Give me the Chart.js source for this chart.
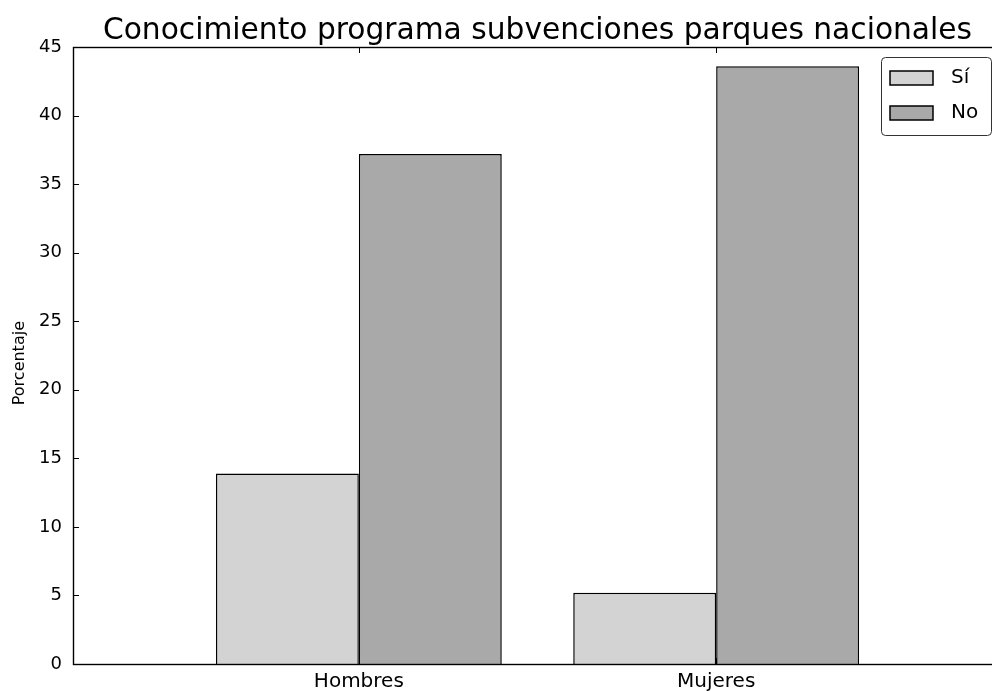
<!DOCTYPE html>
<html>
<head>
<meta charset="utf-8">
<script src="https://cdn.jsdelivr.net/npm/chart.js@4"></script>
<style>
  html, body { margin: 0; padding: 0; background: #fff; overflow: hidden; }
</style>
</head>
<body>
<canvas id="myChart" width="1065" height="691"></canvas>
<script>
// data
var categories = ["Hombres", "Mujeres"];
var siValues = [13.9, 5.2];
var noValues = [37.2, 43.6];
var seriesLabels = ["Sí", "No"];
var yTicks = [0, 5, 10, 15, 20, 25, 30, 35, 40, 45];

var FONT = "'DejaVu Sans', sans-serif";

function toPoints(values) {
  return values.map(function (v, i) { return { x: i, y: v }; });
}

// inward ticks + top/right spines, like the matplotlib classic style
var spinesPlugin = {
  id: "spines",
  afterDatasetsDraw: function (chart) {
    var ctx = chart.ctx;
    var a = chart.chartArea;
    var xs = chart.scales.x, ys = chart.scales.y;
    ctx.save();
    ctx.strokeStyle = "#000";
    ctx.lineWidth = 1;
    ctx.beginPath();
    ys.ticks.forEach(function (t) {
      var py = Math.round(ys.getPixelForValue(t.value)) + 0.5;
      ctx.moveTo(a.left, py); ctx.lineTo(a.left + 6, py);
      ctx.moveTo(a.right, py); ctx.lineTo(a.right - 6, py);
    });
    xs.ticks.forEach(function (t) {
      var px = Math.round(xs.getPixelForValue(t.value)) + 0.5;
      ctx.moveTo(px, a.top); ctx.lineTo(px, a.top + 6);
      ctx.moveTo(px, a.bottom); ctx.lineTo(px, a.bottom - 6);
    });
    ctx.stroke();
    ctx.lineWidth = 1.4;
    ctx.strokeRect(a.left + 0.5, a.top + 0.5, a.right - a.left, a.bottom - a.top);
    ctx.restore();
  }
};

// legend box inside the upper right corner of the plot
var boxLegendPlugin = {
  id: "boxLegend",
  afterDraw: function (chart) {
    var ctx = chart.ctx;
    var a = chart.chartArea;
    var w = 110, h = 78;
    var x0 = a.right - 11 - w, y0 = a.top + 10;
    ctx.save();
    ctx.fillStyle = "#fff";
    ctx.strokeStyle = "#333";
    ctx.lineWidth = 1;
    ctx.beginPath();
    ctx.roundRect(x0 + 0.5, y0 + 0.5, w, h, 4);
    ctx.fill();
    ctx.stroke();
    ctx.font = "20px " + FONT;
    ctx.textBaseline = "middle";
    chart.data.datasets.forEach(function (ds, i) {
      var cy = y0 + 21 + i * 35;
      ctx.fillStyle = ds.backgroundColor;
      ctx.fillRect(x0 + 9, cy - 7, 43, 14);
      ctx.strokeStyle = "#000";
      ctx.lineWidth = 1.5;
      ctx.strokeRect(x0 + 9, cy - 7, 43, 14);
      ctx.fillStyle = "#000";
      ctx.fillText(ds.label, x0 + 70, cy);
    });
    ctx.restore();
  }
};

var ctx = document.getElementById("myChart").getContext("2d");

var myChart = new Chart(ctx, {
  type: "bar",
  data: {
    datasets: [
      {
        label: seriesLabels[0],
        data: toPoints(siValues),
        backgroundColor: "#d3d3d3",
        borderColor: "#000",
        borderWidth: 1.5,
      },
      {
        label: seriesLabels[1],
        data: toPoints(noValues),
        backgroundColor: "#a9a9a9",
        borderColor: "#000",
        borderWidth: 1.5,
      },
    ],
  },
  options: {
    responsive: false,
    animation: false,
    layout: { padding: { left: 10, right: 0, top: 0, bottom: 0 } },
    datasets: { bar: { categoryPercentage: 0.8, barPercentage: 1.0 } },
    plugins: {
      legend: { display: false },
      tooltip: { enabled: false },
      title: {
        display: true,
        text: "Conocimiento programa subvenciones parques nacionales",
        color: "#000",
        font: { family: FONT, size: 29.7, weight: "normal", lineHeight: 1.0 },
        padding: { top: 16, bottom: 1.3 },
      },
    },
    scales: {
      x: {
        type: "linear",
        min: -0.8,
        max: 1.8,
        offset: false,
        grid: { display: false, drawTicks: false },
        border: { display: false },
        afterBuildTicks: function (scale) {
          scale.ticks = categories.map(function (c, i) { return { value: i }; });
        },
        afterFit: function (scale) { scale.height = 27; },
        ticks: {
          color: "#000",
          padding: 6,
          maxRotation: 0,
          font: { family: FONT, size: 20 },
          callback: function (v) { return categories[v]; },
        },
      },
      y: {
        min: 0,
        max: 45,
        grid: { display: false, drawTicks: false },
        border: { display: false },
        afterBuildTicks: function (scale) {
          scale.ticks = yTicks.map(function (v) { return { value: v }; });
        },
        afterFit: function (scale) { scale.width = 63; },
        ticks: {
          color: "#000",
          padding: 11,
          font: { family: FONT, size: 18 },
        },
        title: {
          display: true,
          // trailing spaces nudge the label a bit lower, as in the source
          text: "Porcentaje   ",
          color: "#000",
          padding: 0,
          font: { family: FONT, size: 16 },
        },
      },
      // empty right-hand strip (the figure continues past the window edge)
      y2: {
        position: "right",
        grid: { display: false, drawTicks: false },
        border: { display: false },
        ticks: { display: false },
        afterFit: function (scale) { scale.width = 63; },
      },
    },
  },
  plugins: [spinesPlugin, boxLegendPlugin],
});
</script>
</body>
</html>
